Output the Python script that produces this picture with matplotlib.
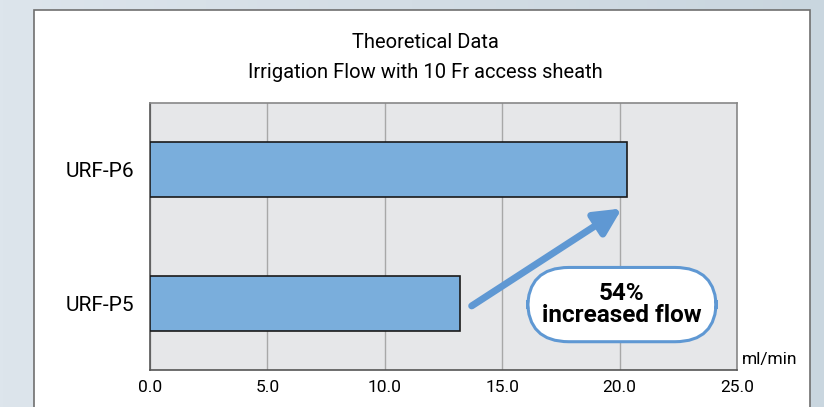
import matplotlib.pyplot as plt
from matplotlib.patches import Rectangle
from matplotlib.colors import LinearSegmentedColormap
import numpy as np

# data
models = ["URF-P5", "URF-P6"]
flow = [13.2, 20.3]
xticks = [0.0, 5.0, 10.0, 15.0, 20.0, 25.0]
increase_text = "54%\nincreased flow"

plt.rcParams['font.family'] = ["Roboto", "DejaVu Sans"]

fig = plt.figure(figsize=(8.24, 4.07), dpi=100)

# background gradient + white panel
bg = fig.add_axes([0, 0, 1, 1])
grad = np.linspace(0, 1, 256).reshape(1, -1)
cm = LinearSegmentedColormap.from_list("bg", ["#dde5ec", "#d3dde5", "#c9d6df"])
bg.imshow(grad, aspect="auto", cmap=cm, extent=[0, 1, 0, 1])
bg.add_patch(Rectangle((34 / 824, -0.05), (810 - 34) / 824, 1.05 - 10 / 407,
                       facecolor="white", edgecolor="#6f6f6f", linewidth=1.2))
bg.set_xlim(0, 1)
bg.set_ylim(0, 1)
bg.axis("off")

ax = fig.add_axes([150 / 824, 1 - 370 / 407, (737 - 150) / 824, (370 - 103) / 407])
ax.set_facecolor("#e6e7e9")
ax.barh([0, 1], flow, height=0.41, color="#7aaedc", edgecolor="#1a1a1a", linewidth=1.2, zorder=3)
ax.set_xlim(0, 25)
ax.set_ylim(-0.5, 1.5)
ax.set_xticks(xticks)
ax.set_xticklabels(["%.1f" % t for t in xticks], fontsize=12.5)
ax.set_yticks([0, 1])
ax.set_yticklabels(models, fontsize=15)
ax.tick_params(length=0, pad=7)
ax.tick_params(axis="y", pad=11)
ax.grid(axis="x", color="#a8a8a8", linewidth=1.0, zorder=0)
for s in ax.spines.values():
    s.set_color("#555555")
    s.set_linewidth(1.2)
ax.spines["top"].set_color("#888888")
ax.spines["right"].set_color("#888888")

ax.text(25.2, -0.42, "ml/min", fontsize=12.5, ha="left", va="center")

fig.text(425 / 824, 1 - 43 / 407, "Theoretical Data", fontsize=14.5, ha="center", va="center")
fig.text(425 / 824, 1 - 72 / 407, "Irrigation Flow with 10 Fr access sheath", fontsize=14.5,
         ha="center", va="center")

# arrow
ax.annotate("", xy=(20.1, 0.71), xytext=(13.7, -0.02),
            arrowprops=dict(arrowstyle="-|>,head_length=1.6,head_width=0.8",
                            color="#5f98d3", lw=5, shrinkA=0, shrinkB=0), zorder=4)

# rounded callout
ax.text(20.1, -0.01, increase_text, fontsize=17.5, fontweight="bold", ha="center", va="center",
        linespacing=0.95, zorder=5,
        bbox=dict(boxstyle="round,pad=0.6,rounding_size=1.7", facecolor="white",
                  edgecolor="#5f98d3", linewidth=2.2))

fig.savefig("out.png", dpi=100)
